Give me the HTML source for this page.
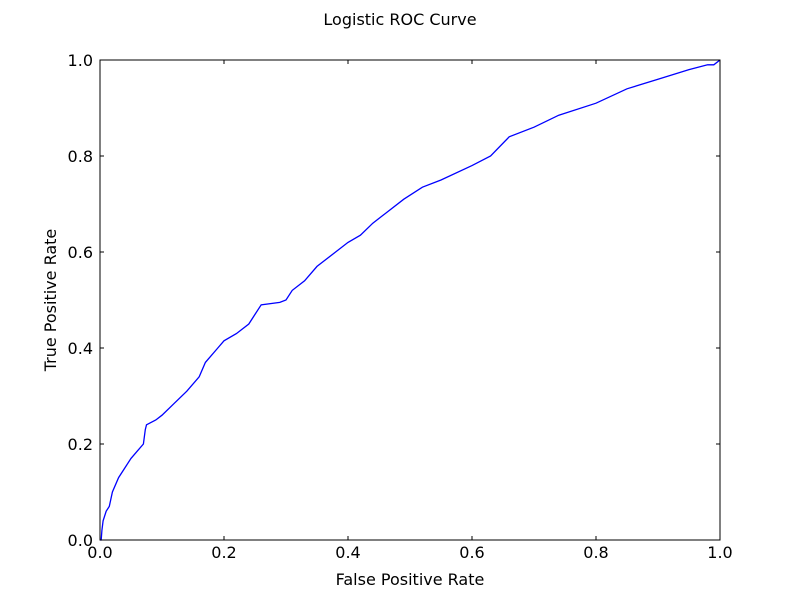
<!DOCTYPE html>
<html><head><meta charset="utf-8"><style>
body{margin:0;background:#fff;font-family:"Liberation Sans","DejaVu Sans",sans-serif;}
svg text{font-family:"DejaVu Sans","Liberation Sans",sans-serif;}
</style></head><body>
<svg id="chart" width="800" height="600" xmlns="http://www.w3.org/2000/svg">
<rect width="800" height="600" fill="#fff"/>
<text x="400" y="25" text-anchor="middle" font-size="16">Logistic ROC Curve</text>
<g id="curve"></g>
<rect x="100" y="60" width="620" height="480" fill="none" stroke="#000" stroke-width="1"/>
<g id="ticks"></g>
<text x="410" y="585" text-anchor="middle" font-size="16">False Positive Rate</text>
<text x="56" y="300" text-anchor="middle" font-size="16" transform="rotate(-90 56 300)">True Positive Rate</text>
</svg>
<script>
const fpr=[0,0.002,0.003,0.005,0.01,0.015,0.02,0.03,0.04,0.05,0.06,0.07,0.073,0.075,0.09,0.1,0.12,0.14,0.16,0.17,0.19,0.2,0.22,0.24,0.25,0.26,0.29,0.3,0.31,0.33,0.35,0.38,0.4,0.42,0.44,0.46,0.49,0.52,0.55,0.6,0.63,0.66,0.7,0.74,0.8,0.85,0.9,0.95,0.98,0.99,1];
const tpr=[0,0.0,0.02,0.04,0.06,0.07,0.1,0.13,0.15,0.17,0.185,0.2,0.23,0.24,0.25,0.26,0.285,0.31,0.34,0.37,0.4,0.415,0.43,0.45,0.47,0.49,0.495,0.5,0.52,0.54,0.57,0.6,0.62,0.635,0.66,0.68,0.71,0.735,0.75,0.78,0.8,0.84,0.86,0.885,0.91,0.94,0.96,0.98,0.99,0.99,1];
const tickVals=[0,0.2,0.4,0.6,0.8,1.0];
const tickLabels=["0.0","0.2","0.4","0.6","0.8","1.0"];
const NS="http://www.w3.org/2000/svg";
const X=v=>100+v*620, Y=v=>540-v*480;
let d="M"+X(fpr[0])+","+Y(tpr[0]);
for(let i=1;i<fpr.length;i++){d+=" L"+X(fpr[i]).toFixed(1)+","+Y(tpr[i]).toFixed(1);}
const p=document.createElementNS(NS,"path");
p.setAttribute("d",d);p.setAttribute("fill","none");p.setAttribute("stroke","#0000ff");p.setAttribute("stroke-width","1.3");


document.getElementById("curve").appendChild(p);
const g=document.getElementById("ticks");
tickVals.forEach((v,i)=>{
  const x=X(v),y=Y(v);
  [[x,540,x,536],[x,60,x,64],[100,y,104,y],[720,y,716,y]].forEach(c=>{
    const l=document.createElementNS(NS,"line");
    l.setAttribute("x1",c[0]);l.setAttribute("y1",c[1]);l.setAttribute("x2",c[2]);l.setAttribute("y2",c[3]);l.setAttribute("stroke","#000");
    
    
    g.appendChild(l);
  });
  const tx=document.createElementNS(NS,"text");
  tx.setAttribute("x",x);tx.setAttribute("y",558);tx.setAttribute("text-anchor","middle");tx.setAttribute("font-size","16");
  tx.textContent=tickLabels[i];
  
  
  g.appendChild(tx);
  const ty=document.createElementNS(NS,"text");
  ty.setAttribute("x",93);ty.setAttribute("y",y+6);ty.setAttribute("text-anchor","end");ty.setAttribute("font-size","16");
  ty.textContent=tickLabels[i];
  
  
  g.appendChild(ty);
});
</script>
</body></html>
